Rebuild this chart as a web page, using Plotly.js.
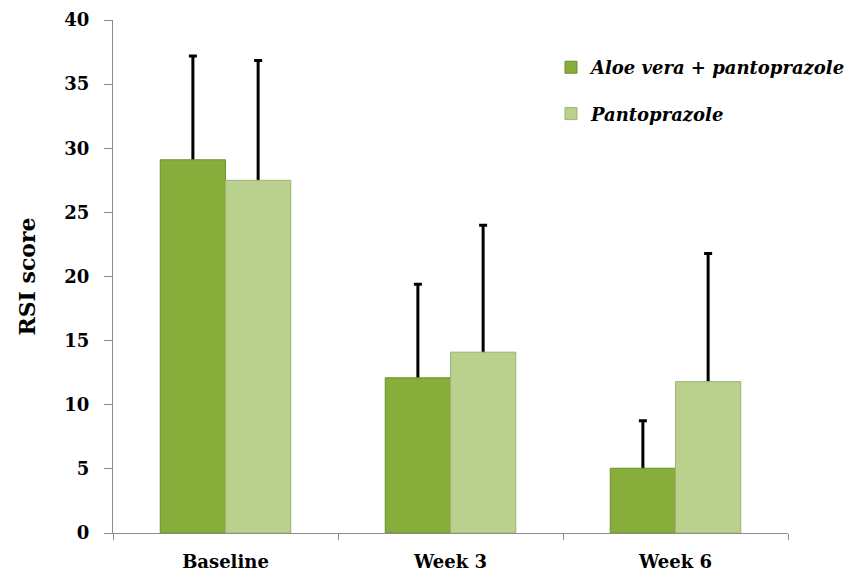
<!DOCTYPE html>
<html>
<head>
<meta charset="utf-8">
<script src="https://cdn.plot.ly/plotly-3.0.1.min.js"></script>
<style>html,body{margin:0;padding:0;background:#fff;}#chart{width:847px;height:574px;}</style>
</head>
<body>
<div id="chart"></div>
<script>
const categories = ["Baseline", "Week 3", "Week 6"];
const seriesNames = ["Aloe vera + pantoprazole", "Pantoprazole"];
const aloeMeans = [29.1, 12.1, 5.05];
const aloeSD = [8.1, 7.3, 3.7];
const pantoMeans = [27.5, 14.1, 11.8];
const pantoSD = [9.35, 9.9, 10.0];
const yTicks = [0, 5, 10, 15, 20, 25, 30, 35, 40];

const serif = "DejaVu Serif, Liberation Serif, serif";
// small downward extension (data units) so the lower cap is hidden under the bar
const capHide = 0.25;

function errTrace(y, sd, group) {
  return {
    type: "bar", x: categories, y: y, offsetgroup: group, showlegend: false,
    marker: {color: "rgba(0,0,0,0)", line: {width: 0}},
    error_y: {
      type: "data", symmetric: false, array: sd,
      arrayminus: sd.map(() => capHide),
      color: "#000000", thickness: 3, width: 4
    },
    hoverinfo: "skip"
  };
}

function barTrace(name, y, color, lineColor, group) {
  return {
    type: "bar", name: name, x: categories, y: y,
    offsetgroup: group, legendgroup: group,
    marker: {color: color, line: {color: lineColor, width: 1}},
    hoverinfo: "skip"
  };
}

const data = [
  errTrace(aloeMeans, aloeSD, "g1"),
  errTrace(pantoMeans, pantoSD, "g2"),
  barTrace(seriesNames[0], aloeMeans, "#87AD3B", "#6E8F2C", "g1"),
  barTrace(seriesNames[1], pantoMeans, "#B9D18C", "#9CB274", "g2")
];

const layout = {
  width: 847, height: 574,
  margin: {l: 113, r: 59, t: 20, b: 41, autoexpand: false},
  paper_bgcolor: "#ffffff", plot_bgcolor: "#ffffff",
  barmode: "group", bargap: 0.42, bargroupgap: 0,
  showlegend: true,
  legend: {
    xref: "container", yref: "container",
    x: 0.6505, y: 0.9146, xanchor: "left", yanchor: "top",
    bgcolor: "rgba(0,0,0,0)",
    tracegroupgap: 20, itemwidth: 30,
    font: {family: serif, size: 18, color: "#000000", weight: "bold", style: "italic"}
  },
  xaxis: {
    type: "category",
    showline: true, linecolor: "#8c8c8c", linewidth: 1,
    ticks: "outside", tickson: "boundaries", ticklen: 6, tickcolor: "#8c8c8c",
    showgrid: false, zeroline: false,
    ticklabelstandoff: 12,
    tickfont: {family: serif, size: 18, color: "#000000", weight: "bold"}
  },
  yaxis: {
    range: [0, 40], tickvals: yTicks, ticktext: yTicks.map(String),
    showline: true, linecolor: "#8c8c8c", linewidth: 1,
    ticks: "outside", ticklen: 8, tickcolor: "#8c8c8c",
    showgrid: false, zeroline: false,
    ticklabelstandoff: 11,
    tickfont: {family: serif, size: 18, color: "#000000", weight: "bold"},
    title: {text: "RSI score", standoff: 22, font: {family: serif, size: 22, color: "#000000", weight: "bold"}}
  }
};

Plotly.newPlot("chart", data, layout, {displayModeBar: false, staticPlot: true});
</script>
</body>
</html>
